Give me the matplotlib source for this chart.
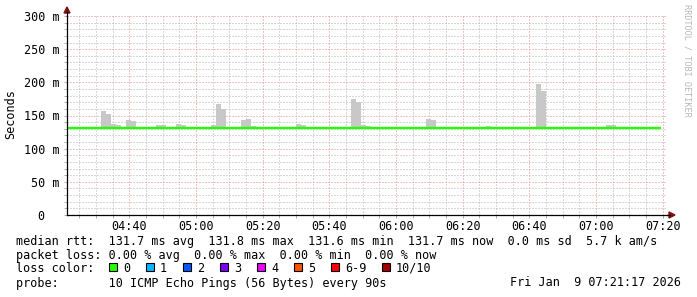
import matplotlib
matplotlib.use("Agg")
import matplotlib.pyplot as plt
import matplotlib.dates as mdates
from matplotlib.patches import Rectangle, Polygon
import pandas as pd

# smoke: start of each 90 s step and the highest ping in it (ms)
smoke_times = ["04:31:30", "04:33:00", "04:34:30", "04:36:00", "04:39:00", "04:40:30",
               "04:48:00", "04:49:30", "04:54:00", "04:55:30",
               "05:04:30", "05:06:00", "05:07:30", "05:13:30", "05:15:00", "05:16:30",
               "05:30:00", "05:31:30",
               "05:46:30", "05:48:00", "05:49:30", "05:51:00",
               "06:09:00", "06:10:30", "06:27:00", "06:42:00", "06:43:30",
               "07:03:00", "07:04:30"]
smoke_max = [157, 152, 137, 136, 143, 142,
             136, 136, 137, 136,
             136, 167, 160, 143, 145, 134,
             137, 136,
             175, 170, 136, 134,
             145, 143, 134, 197.5, 187,
             136, 136]

# median rtt (loss 0 the whole time)
median_times = ["04:21:00", "07:19:30"]
median_vals = [131.7, 131.7]

day = "2026-01-09 "
t_start = pd.Timestamp(day + "04:21:17")
t_end = pd.Timestamp(day + "07:21:17")

y_ticks = [0, 50, 100, 150, 200, 250, 300]
y_labels = ["0  ", "50 m", "100 m", "150 m", "200 m", "250 m", "300 m"]

legend_rows = [
    "median rtt:  131.7 ms avg  131.8 ms max  131.6 ms min  131.7 ms now  0.0 ms sd  5.7 k am/s",
    "packet loss: 0.00 % avg  0.00 % max  0.00 % min  0.00 % now",
]
loss_labels = ["0", "1", "2", "3", "4", "5", "6-9", "10/10"]
loss_colors = ["#26ff00", "#00b8ff", "#0059ff", "#7e00ff", "#ee00ff", "#ff5500", "#ff0000", "#a10000"]
probe_text = "probe:       10 ICMP Echo Pings (56 Bytes) every 90s"
date_text = "Fri Jan  9 07:21:17 2026"

W, H = 697, 297
mono = "DejaVu Sans Mono"
fs = 8.5

fig = plt.figure(figsize=(W / 100, H / 100), dpi=100)
fig.patch.set_facecolor("white")


def fx(x):
    return x / W


def fy(y):
    return 1 - y / H


ax = fig.add_axes([fx(67), fy(215), 600 / W, 199 / H])

st = pd.to_datetime([day + t for t in smoke_times])
ax.bar(st, [m - median_vals[0] for m in smoke_max], width=90 / 86400, align="edge",
       bottom=median_vals[0], color="#c8c8c8", linewidth=0, zorder=2)

mt = pd.to_datetime([day + t for t in median_times])
ax.plot(mt, median_vals, color="#26ff00", linewidth=1.7, zorder=3, solid_capstyle="butt")

ax.set_xlim(t_start, t_end)
ax.set_ylim(0, 300)

ax.xaxis.set_major_locator(mdates.MinuteLocator(byminute=[0, 20, 40]))
ax.xaxis.set_minor_locator(mdates.MinuteLocator(byminute=range(0, 60, 5)))
ax.xaxis.set_major_formatter(mdates.DateFormatter("%H:%M"))
ax.set_yticks(y_ticks)
ax.set_yticks(range(0, 301, 10), minor=True)
ax.set_yticklabels(y_labels)

ax.grid(which="minor", color="#b4b4b4", linestyle=(0, (1, 2)), linewidth=0.72, zorder=1)
ax.grid(which="major", color="#e48a8a", linestyle=(0, (1, 2)), linewidth=0.72, zorder=1)
ax.set_axisbelow(True)

for lab in ax.get_xticklabels() + ax.get_yticklabels():
    lab.set_fontfamily(mono)
    lab.set_fontsize(fs)
    lab.set_color("#000000")
ax.tick_params(which="both", length=2, width=0.72, color="#b0b0b0")
ax.tick_params(axis="x", which="major", pad=1.5)
ax.tick_params(axis="y", which="major", pad=3.5)

for s in ["top", "right"]:
    ax.spines[s].set_visible(False)
for s in ["left", "bottom"]:
    ax.spines[s].set_color("black")
    ax.spines[s].set_linewidth(0.9)
    ax.spines[s].set_zorder(4)

fig.text(fx(11), fy(114), "Seconds", rotation=90, ha="center", va="center",
         fontfamily=mono, fontsize=fs)

# axis arrows
arrow_c = "#7f1010"
fig.patches.append(Polygon([(fx(67), fy(7)), (fx(64), fy(13)), (fx(70), fy(13))],
                           closed=True, color=arrow_c, transform=fig.transFigure))
fig.lines.append(plt.Line2D([fx(67), fx(67)], [fy(12), fy(16)], color="black", lw=0.9,
                            transform=fig.transFigure))
fig.patches.append(Polygon([(fx(675), fy(215)), (fx(669), fy(212)), (fx(669), fy(218))],
                           closed=True, color=arrow_c, transform=fig.transFigure))
fig.lines.append(plt.Line2D([fx(667), fx(670)], [fy(215), fy(215)], color="black", lw=0.9,
                            transform=fig.transFigure))

# watermark
fig.text(fx(687), fy(4), "RRDTOOL / TOBI OETIKER", rotation=270, ha="center", va="top",
         fontfamily=mono, fontsize=6.1, color="#b8b8b8")

# legend block
row_y = [241, 255, 268, 283]
for i, row in enumerate(legend_rows):
    fig.text(fx(16), fy(row_y[i]), row, ha="left", va="center", fontfamily=mono, fontsize=fs)

fig.text(fx(16), fy(row_y[2]), "loss color:", ha="left", va="center", fontfamily=mono, fontsize=fs)
bx = 109
for lab, col in zip(loss_labels, loss_colors):
    fig.patches.append(Rectangle((fx(bx), fy(271)), 8 / W, 8 / H, facecolor=col,
                                 edgecolor="black", linewidth=0.8, transform=fig.transFigure))
    fig.text(fx(bx + 14), fy(row_y[2]), lab, ha="left", va="center", fontfamily=mono, fontsize=fs)
    bx += 37 + 7 * (len(lab) - 1)

fig.text(fx(16), fy(row_y[3]), probe_text, ha="left", va="center", fontfamily=mono, fontsize=fs)
fig.text(fx(681), fy(row_y[3]), date_text, ha="right", va="center", fontfamily=mono, fontsize=fs)

fig.savefig("out.png", dpi=100)
